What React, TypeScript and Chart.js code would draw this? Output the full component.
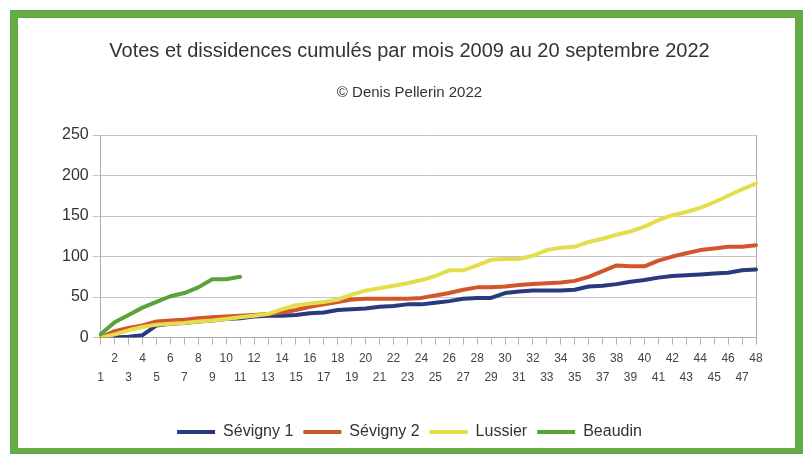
import React, { useEffect, useRef } from 'react';
import { Chart, registerables } from 'chart.js';

Chart.register(...registerables);

const TITLE = 'Votes et dissidences cumulés par mois 2009 au 20 septembre 2022';
const SUBTITLE = '© Denis Pellerin 2022';

const MONTHS = [
  '1', '2', '3', '4', '5', '6', '7', '8', '9', '10', '11', '12',
  '13', '14', '15', '16', '17', '18', '19', '20', '21', '22', '23', '24',
  '25', '26', '27', '28', '29', '30', '31', '32', '33', '34', '35', '36',
  '37', '38', '39', '40', '41', '42', '43', '44', '45', '46', '47', '48',
];

const SEVIGNY_1 = [
  0, 0, 1, 3, 15, 17, 18, 20, 21, 23, 24, 26,
  27, 27, 28, 30, 31, 34, 35, 36, 38, 39, 41, 41,
  43, 45, 48, 49, 49, 55, 57, 58, 58, 58, 59, 63,
  64, 66, 69, 71, 74, 76, 77, 78, 79, 80, 83, 84,
];

const SEVIGNY_2 = [
  0, 8, 12, 15, 20, 21, 22, 24, 25, 26, 27, 28,
  29, 31, 34, 38, 41, 44, 47, 48, 48, 48, 48, 49,
  52, 55, 59, 62, 62, 63, 65, 66, 67, 68, 70, 75,
  82, 89, 88, 88, 95, 100, 104, 108, 110, 112, 112, 114,
];

const LUSSIER = [
  0, 4, 9, 13, 16, 17, 18, 20, 21, 23, 25, 27,
  29, 35, 40, 42, 44, 47, 53, 58, 61, 64, 67, 71,
  76, 83, 83, 89, 96, 97, 97, 101, 108, 111, 112, 118,
  122, 127, 131, 137, 145, 151, 155, 160, 167, 175, 183, 190,
];

const BEAUDIN = [4, 19, 28, 37, 44, 51, 55, 62, 72, 72, 75];

const SERIES_NAMES = ['Sévigny 1', 'Sévigny 2', 'Lussier', 'Beaudin'];
const SERIES_COLORS = ['#2a3a7e', '#d2562a', '#e4de4f', '#5ca23b'];

const Y_MIN = 0;
const Y_MAX = 250;
const Y_STEP = 50;

const FONT = "'Liberation Sans', Arial, sans-serif";
const GRID = '#c4c4c4';
const AXIS = '#b0b0b0';

export default function App() {
  const ref = useRef<HTMLCanvasElement | null>(null);

  useEffect(() => {
    if (!ref.current) return;
    const values = [SEVIGNY_1, SEVIGNY_2, LUSSIER, BEAUDIN];
    const chart = new Chart(ref.current, {
      type: 'line',
      data: {
        labels: MONTHS,
        datasets: values.map((d, i) => ({
          label: SERIES_NAMES[i],
          data: d,
          borderColor: SERIES_COLORS[i],
          backgroundColor: SERIES_COLORS[i],
          borderWidth: 4,
          pointRadius: 0,
          pointHoverRadius: 0,
          tension: 0,
          fill: false,
          borderJoinStyle: 'round' as const,
          borderCapStyle: 'round' as const,
          order: 4 - i,
          yAxisID: 'y',
        })),
      },
      options: {
        responsive: false,
        animation: false,
        events: [],
        font: { family: FONT },
        layout: { padding: { left: 40, right: 34, top: 0, bottom: 0 } },
        plugins: {
          title: {
            display: true,
            text: TITLE,
            color: '#333',
            font: { family: FONT, size: 20, weight: 'normal', lineHeight: 1.2 },
            padding: { top: 21, bottom: 21 },
          },
          subtitle: {
            display: true,
            text: SUBTITLE,
            color: '#333',
            font: { family: FONT, size: 15, weight: 'normal', lineHeight: 1.2 },
            padding: { top: 0, bottom: 33 },
          },
          legend: {
            position: 'bottom',
            labels: {
              usePointStyle: true,
              pointStyle: 'line',
              pointStyleWidth: 38,
              padding: 10,
              color: '#333',
              font: { family: FONT, size: 16 },
              sort: (a: any, b: any) => a.datasetIndex - b.datasetIndex,
            },
          },
          tooltip: { enabled: false },
        },
        scales: {
          x: {
            type: 'category',
            offset: false,
            grid: {
              display: true,
              drawOnChartArea: false,
              drawTicks: true,
              tickLength: 7,
              color: AXIS,
            },
            border: { display: true, color: AXIS, width: 1 },
            ticks: {
              autoSkip: false,
              maxRotation: 0,
              minRotation: 0,
              padding: 4,
              color: '#444',
              font: { family: FONT, size: 12, lineHeight: 1.6 },
              callback: (_v: any, index: number) =>
                index % 2 === 1 ? [MONTHS[index], ''] : ['', MONTHS[index]],
            },
            afterFit: (scale: any) => {
              scale.height += 23;
            },
          },
          y: {
            type: 'linear',
            position: 'left',
            min: Y_MIN,
            max: Y_MAX,
            grid: { color: GRID, tickLength: 8, drawTicks: true },
            border: { display: true, color: AXIS },
            ticks: {
              stepSize: Y_STEP,
              padding: 4,
              color: '#333',
              font: { family: FONT, size: 16 },
            },
          },
          y2: {
            type: 'linear',
            position: 'right',
            display: true,
            grid: { display: false, drawTicks: false },
            ticks: { display: false },
            border: { display: true, color: AXIS },
            afterFit: (scale: any) => {
              scale.width += 5;
            },
          },
        },
      },
    } as any);
    return () => chart.destroy();
  }, []);

  return (
    <div
      style={{
        position: 'fixed',
        left: 0,
        top: 0,
        width: 810,
        height: 454,
        background: '#fff',
        overflow: 'hidden',
      }}
    >
      <div
        style={{
          position: 'absolute',
          left: 10,
          top: 10,
          width: 793,
          height: 446,
          boxSizing: 'border-box',
          border: '8px solid #63ab45',
          background: '#fff',
        }}
      >
        <canvas ref={ref} width={777} height={432} style={{ display: 'block' }} />
      </div>
    </div>
  );
}
